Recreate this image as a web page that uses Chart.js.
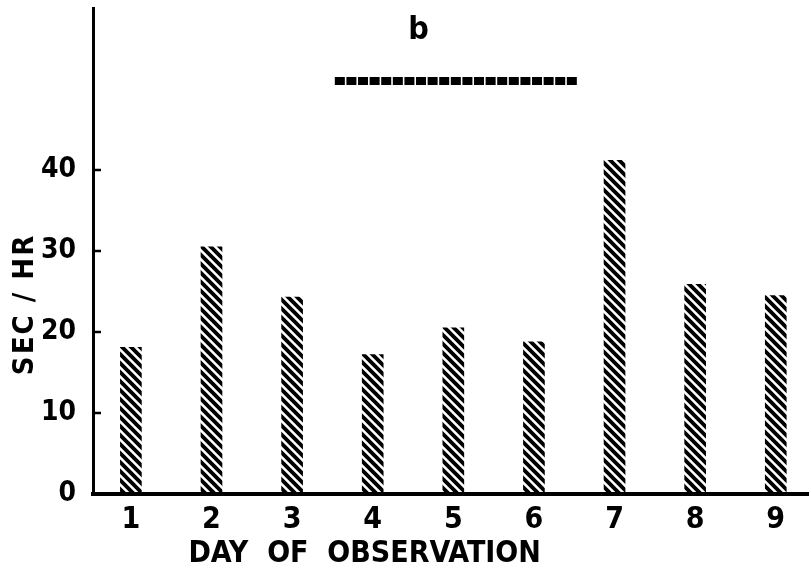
<!DOCTYPE html>
<html>
<head>
<meta charset="utf-8">
<script src="https://cdn.jsdelivr.net/npm/chart.js@4/dist/chart.umd.min.js"></script>
<style>
  html, body { margin: 0; padding: 0; background: #fff; }
  #wrap { width: 811px; height: 580px; }
</style>
</head>
<body>
<div id="wrap"><canvas id="myChart" width="811" height="580"></canvas></div>
<script>
// Observation days and measured values
const days = [1, 2, 3, 4, 5, 6, 7, 8, 9];
const secPerHr = [18.1, 30.5, 24.3, 17.2, 20.5, 18.8, 41.2, 25.9, 24.5];
const yTicks = [0, 10, 20, 30, 40];

// Treatment period bar above days 4-6
const periodX = [3.53, 6.55];
const periodY = [51.0, 51.0];
const panelLabel = 'b';

const FONT = '"DejaVu Sans Condensed", "DejaVu Sans", sans-serif';

// Diagonal hatch fill for the bars
function makeHatch() {
    const n = 9;
    const c = document.createElement('canvas');
    c.width = n; c.height = n;
    const g = c.getContext('2d');
    g.strokeStyle = '#000';
    g.lineWidth = 3.8;
    g.beginPath();
    for (const o of [-n, 0, n]) {
        g.moveTo(o - 2, -2);
        g.lineTo(o + n + 2, n + 2);
    }
    g.stroke();
    return g.createPattern(c, 'repeat');
}

// Inner ticks, panel letter and axis titles
const extras = {
    id: 'extras',
    afterDraw(chart) {
        const { ctx, scales: { x, y } } = chart;
        ctx.save();
        ctx.strokeStyle = '#000';
        ctx.lineWidth = 2.5;
        ctx.beginPath();
        yTicks.forEach(v => {
            if (v === 0) return;
            const py = y.getPixelForValue(v);
            ctx.moveTo(x.left, py);
            ctx.lineTo(x.left + 8, py);
        });
        ctx.stroke();

        ctx.fillStyle = '#000';
        ctx.textAlign = 'center';
        ctx.textBaseline = 'middle';
        ctx.font = 'bold 32px ' + FONT;
        ctx.fillText(panelLabel, x.getPixelForValue(4.57), y.getPixelForValue(57.2));

        ctx.font = 'bold 30px ' + FONT;
        ctx.fillText('DAY  OF  OBSERVATION', x.getPixelForValue(3.9), 554);

        ctx.font = 'bold 29px ' + FONT;
        ctx.letterSpacing = '2px';
        ctx.translate(25, y.getPixelForValue(23.4));
        ctx.rotate(-Math.PI / 2);
        ctx.fillText('SEC / HR', 0, 0);
        ctx.restore();
    }
};

function drawChart() {
    const ctx = document.getElementById('myChart').getContext('2d');
    const hatch = makeHatch();

    new Chart(ctx, {
        type: 'bar',
        data: {
            datasets: [{
                type: 'bar',
                data: days.map((d, i) => ({ x: d, y: secPerHr[i] })),
                backgroundColor: hatch,
                borderWidth: 0,
                barThickness: 21
            }, {
                type: 'line',
                data: periodX.map((px, i) => ({ x: px, y: periodY[i] })),
                borderColor: '#000',
                borderWidth: 8,
                borderDash: [10, 1.6],
                borderCapStyle: 'butt',
                pointRadius: 0
            }]
        },
        options: {
            responsive: false,
            animation: false,
            layout: { padding: { top: 8, right: 3, left: 0, bottom: 0 } },
            plugins: {
                legend: { display: false },
                tooltip: { enabled: false }
            },
            scales: {
                x: {
                    type: 'linear',
                    offset: false,
                    min: 0.53,
                    max: 9.4,
                    afterFit: s => { s.height = 86; s.paddingLeft = 0; s.paddingRight = 0; },
                    afterBuildTicks: s => { s.ticks = days.map(d => ({ value: d })); },
                    grid: { display: false },
                    border: { display: true, color: '#000', width: 4 },
                    ticks: {
                        color: '#000',
                        padding: 0,
                        font: { family: FONT, size: 30, weight: 'bold' }
                    }
                },
                y: {
                    min: 0,
                    max: 60,
                    afterFit: s => { s.width = 93; s.paddingTop = 0; s.paddingBottom = 0; },
                    afterBuildTicks: s => { s.ticks = yTicks.map(v => ({ value: v })); },
                    grid: { display: false },
                    border: { display: true, color: '#000', width: 3 },
                    ticks: {
                        color: '#000',
                        padding: 9,
                        font: { family: FONT, size: 28, weight: 'bold' }
                    }
                }
            }
        },
        plugins: [extras]
    });
}

document.addEventListener('DOMContentLoaded', drawChart);
</script>
</body>
</html>
